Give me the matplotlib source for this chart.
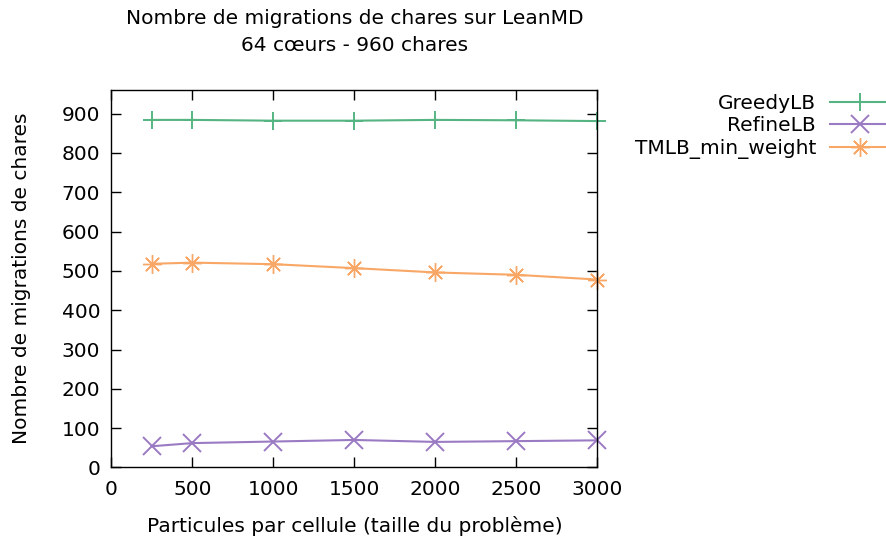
import matplotlib
matplotlib.use("Agg")
import matplotlib.pyplot as plt

plt.rcParams['font.family'] = ['DejaVu Sans']

particles = [250, 500, 1000, 1500, 2000, 2500, 3000]
greedy = [884, 884, 882, 882, 884, 883, 881]
refine = [54, 62, 66, 70, 65, 67, 69]
tmlb = [518, 521, 517, 507, 496, 490, 478]

series_names = ["GreedyLB", "RefineLB", "TMLB_min_weight"]
colors = ["#55b482", "#9b7ac4", "#f8a766"]
markers = ["+", "x", (8, 2, 0)]
marker_sizes = [12.5, 12.5, 13.5]
marker_widths = [1.4, 1.4, 1.0]

x_ticks = [0, 500, 1000, 1500, 2000, 2500, 3000]
y_ticks = [0, 100, 200, 300, 400, 500, 600, 700, 800, 900]

fs = 14.5
fig = plt.figure(figsize=(8.86, 5.39), dpi=100)
ax = fig.add_axes([0.1258, 0.1327, 0.6742 - 0.1258, 0.833 - 0.1327])

for name, vals, c, m, ms, mw in zip(series_names, [greedy, refine, tmlb], colors,
                                    markers, marker_sizes, marker_widths):
    ax.plot(particles, vals, color=c, marker=m, markersize=ms,
            markeredgewidth=mw, linewidth=1.5, label=name, clip_on=False)

ax.set_xlim(0, 3000)
ax.set_ylim(0, 960)
ax.set_xticks(x_ticks)
ax.set_yticks(y_ticks)
ax.tick_params(direction='in', length=7, width=1, top=True, right=True,
               labelsize=fs)
ax.tick_params(axis='x', pad=9)
ax.tick_params(axis='y', pad=8)
for sp in ax.spines.values():
    sp.set_linewidth(1)

ax.set_xlabel("Particules par cellule (taille du problème)", fontsize=fs, labelpad=12)
ax.set_ylabel("Nombre de migrations de chares", fontsize=fs, labelpad=22)
ax.set_title("Nombre de migrations de chares sur LeanMD\n64 cœurs - 960 chares",
             fontsize=fs, pad=28, linespacing=1.55)

ax.legend(loc='upper right', bbox_to_anchor=(1.005, 0.826), bbox_transform=fig.transFigure,
          frameon=False, markerfirst=False, fontsize=fs, handlelength=3.0,
          labelspacing=0.18, handletextpad=0.7, borderaxespad=0, borderpad=0)

fig.savefig("out.png", dpi=100)
